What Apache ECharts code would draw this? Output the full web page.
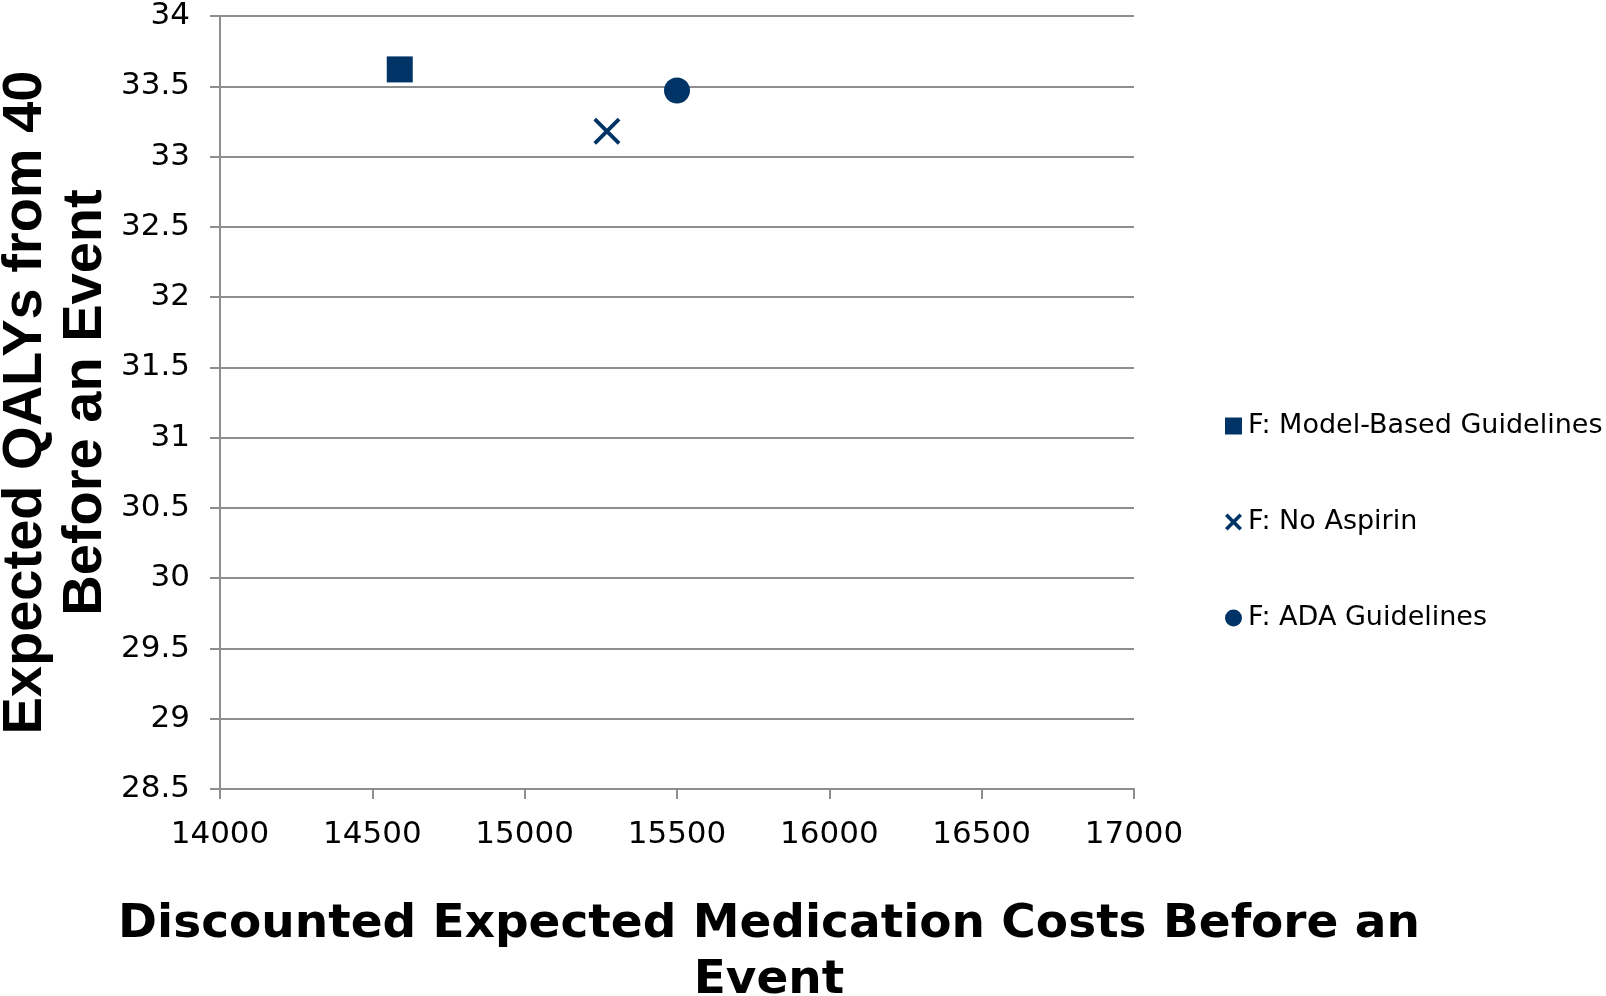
<!DOCTYPE html>
<html>
<head>
<meta charset="utf-8">
<script src="https://cdn.jsdelivr.net/npm/echarts@6/dist/echarts.min.js"></script>
<style>
  html, body { margin: 0; padding: 0; background: #ffffff; }
  #chart { width: 1606px; height: 996px; }
</style>
</head>
<body>
<div id="chart"></div>
<script>
// Strategy names, their discounted medication costs and expected QALYs
const strategies = ['F: Model-Based Guidelines', 'F: No Aspirin', 'F: ADA Guidelines'];
const costs = [14590, 15270, 15500];
const qalys = [33.62, 33.18, 33.47];

// Axis ranges and tick steps
const xRange = [14000, 17000, 500];
const yRange = [28.5, 34, 0.5];

const navy = '#003366';
const gridGray = '#8e8e8e';
const crossPath = 'path://M1,0 L5,4 L9,0 L10,1 L6,5 L10,9 L9,10 L5,6 L1,10 L0,9 L4,5 L0,1 Z';
// heavier cross for the small legend icon
const crossIcon = 'path://M0,1.5 L1.5,0 L5,3.5 L8.5,0 L10,1.5 L6.5,5 L10,8.5 L8.5,10 L5,6.5 L1.5,10 L0,8.5 L3.5,5 Z';
const symbols = ['rect', crossPath, 'circle'];
const icons = ['rect', crossIcon, 'circle'];
const sizes = [26, 27, 26];

const chart = echarts.init(document.getElementById('chart'));

const series = strategies.map((name, i) => ({
  name: name,
  type: 'scatter',
  symbol: symbols[i],
  symbolSize: sizes[i],
  itemStyle: { color: navy, opacity: 1 },
  data: [[costs[i], qalys[i]]],
  z: 5
}));

chart.setOption({
  animation: false,
  backgroundColor: '#ffffff',
  title: {
    text: 'Discounted Expected Medication Costs Before an\nEvent',
    left: 769,
    textAlign: 'center',
    top: 897,
    padding: 0,
    textStyle: {
      fontFamily: 'DejaVu Sans',
      fontWeight: 'bold',
      fontSize: 47,
      lineHeight: 56,
      color: '#000000'
    }
  },
  legend: {
    orient: 'vertical',
    left: 1225,
    top: 412,
    itemWidth: 17,
    itemHeight: 17,
    itemGap: 68,
    padding: 0,
    data: strategies.map((n, i) => ({ name: n, icon: icons[i] })),
    textStyle: {
      fontFamily: 'DejaVu Sans',
      fontSize: 27,
      lineHeight: 28,
      color: '#000000',
      padding: [0, 0, 0, 1]
    },
    itemStyle: { color: navy }
  },
  grid: {
    left: 220,
    right: 472,
    top: 16,
    bottom: 207,
    containLabel: false,
    outerBoundsMode: 'none'
  },
  xAxis: {
    type: 'value',
    min: xRange[0],
    max: xRange[1],
    interval: xRange[2],
    axisLine: { show: true, lineStyle: { color: gridGray, width: 2 } },
    axisTick: { show: true, inside: false, length: 10, lineStyle: { color: gridGray, width: 2 } },
    axisLabel: {
      margin: 30,
      fontFamily: 'DejaVu Sans',
      fontSize: 31,
      color: '#000000',
      formatter: v => String(v)
    },
    splitLine: { show: false }
  },
  yAxis: {
    type: 'value',
    min: yRange[0],
    max: yRange[1],
    interval: yRange[2],
    name: 'Expected QALYs from 40\nBefore an Event',
    nameLocation: 'middle',
    nameRotate: 90,
    nameGap: 104,
    nameMoveOverlap: false,
    nameTextStyle: {
      fontFamily: 'Liberation Sans',
      fontWeight: 'bold',
      fontSize: 56,
      lineHeight: 60,
      color: '#000000'
    },
    axisLine: { show: true, lineStyle: { color: gridGray, width: 2 } },
    axisTick: { show: true, inside: false, length: 10, lineStyle: { color: gridGray, width: 2 } },
    axisLabel: {
      margin: 30,
      fontFamily: 'DejaVu Sans',
      fontSize: 31,
      color: '#000000',
      formatter: v => String(v)
    },
    splitLine: { show: true, lineStyle: { color: gridGray, width: 2 } }
  },
  series: series
});
</script>
</body>
</html>
